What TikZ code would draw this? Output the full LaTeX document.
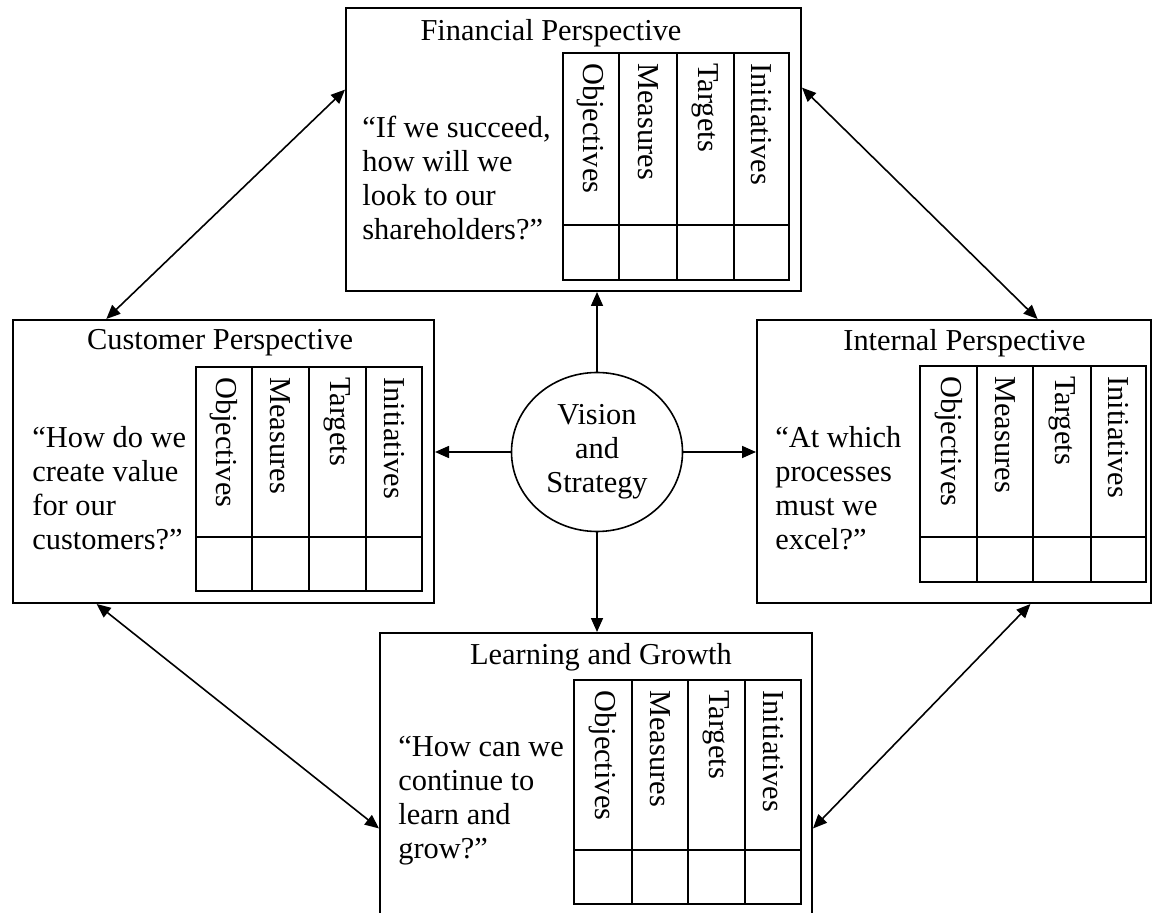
\documentclass[tikz,border=0pt]{standalone}
\usepackage{fontspec}
\setmainfont{Liberation Serif}
\usetikzlibrary{arrows.meta,shapes.geometric,calc}

\begin{document}
\begin{tikzpicture}[
			x=0.5pt, y=-0.5pt,
			every node/.style={font=\fontsize{15.2}{17}\selectfont, inner sep=0pt},
			panel/.style={rectangle, draw=black, line width=1pt},
			hub/.style={ellipse, draw=black, line width=0.8pt, minimum width=85.5pt, minimum height=79.5pt, align=center},
			question/.style={anchor=west, align=left},
			coltext/.style={rotate=-90, anchor=west},
			tablines/.style={line width=1.3pt},
			oneway/.style={-{Triangle[length=7pt,width=6pt]}, line width=0.8pt},
			twoway/.style={{Triangle[length=7pt,width=6pt]}-{Triangle[length=7pt,width=6pt]}, line width=0.8pt},
			]
			\clip (0,0) rectangle (1155,913);
			% the four perspectives and the hub
			\node[panel, minimum width=227.5pt, minimum height=141.5pt] at (573.5,149.5) (fin) {};
			\node[panel, minimum width=210.5pt, minimum height=141.5pt] at (223.5,461.5) (cus) {};
			\node[panel, minimum width=197pt, minimum height=141.5pt] at (954,461.5) (int) {};
			\node[panel, minimum width=216pt, minimum height=148.5pt] at (596,781.5) (lrn) {};
			\node[hub] at (597,452) (vis) {Vision\\and\\Strategy};
			% financial
			\node at (551,33) (fintitle) {Financial Perspective};
			\node[question] at (362,178) (finq) {``If we succeed,\\how will we\\look to our\\shareholders?''};
			\draw[tablines] (563,53) rectangle (789,280);
			\draw[tablines] (563,225) -- (789,225);
			\draw[tablines] (619,53) -- (619,280) (677,53) -- (677,280) (734,53) -- (734,280);
			\node[coltext] at (591,63) (finobj) {Objectives};
			\node[coltext] at (648,63) (finmea) {Measures};
			\node[coltext] at (705.5,63) (fintar) {Targets};
			\node[coltext] at (761.5,63) (finini) {Initiatives};
			% customer
			\node at (220,343) (custitle) {Customer Perspective};
			\node[question] at (32,488) (cusq) {``How do we\\create value\\for our\\customers?''};
			\draw[tablines] (196,367) rectangle (422,591);
			\draw[tablines] (196,537) -- (422,537);
			\draw[tablines] (252,367) -- (252,591) (309,367) -- (309,591) (366,367) -- (366,591);
			\node[coltext] at (224,377) (cusobj) {Objectives};
			\node[coltext] at (280.5,377) (cusmea) {Measures};
			\node[coltext] at (337.5,377) (custar) {Targets};
			\node[coltext] at (394,377) (cusini) {Initiatives};
			% internal
			\node at (964.5,343) (inttitle) {Internal Perspective};
			\node[question] at (775,488) (intq) {``At which\\processes\\must we\\excel?''};
			\draw[tablines] (920,366) rectangle (1146,582);
			\draw[tablines] (920,537) -- (1146,537);
			\draw[tablines] (977,366) -- (977,582) (1033,366) -- (1033,582) (1091,366) -- (1091,582);
			\node[coltext] at (948.5,376) (intobj) {Objectives};
			\node[coltext] at (1005,376) (intmea) {Measures};
			\node[coltext] at (1062,376) (inttar) {Targets};
			\node[coltext] at (1118.5,376) (intini) {Initiatives};
			% learning and growth
			\node at (601,657) (lrntitle) {Learning and Growth};
			\node[question] at (398,801) (lrnq) {``How can we\\continue to\\learn and\\grow?''};
			\draw[tablines] (574,680) rectangle (801,904);
			\draw[tablines] (574,850) -- (801,850);
			\draw[tablines] (632,680) -- (632,904) (688,680) -- (688,904) (745,680) -- (745,904);
			\node[coltext] at (603,690) (lrnobj) {Objectives};
			\node[coltext] at (660,690) (lrnmea) {Measures};
			\node[coltext] at (716.5,690) (lrntar) {Targets};
			\node[coltext] at (773,690) (lrnini) {Initiatives};
			% arrows
			\draw[oneway] (vis.north) -- (vis.north |- fin.south);
			\draw[oneway] (vis.south) -- (vis.south |- lrn.north);
			\draw[oneway] (vis.west) -- (vis.west -| cus.east);
			\draw[oneway] (vis.east) -- (vis.east -| int.west);
			\draw[twoway] ($(cus.north west)!0.223!(cus.north east)$) -- ($(fin.north west)!0.29!(fin.south west)$);
			\draw[twoway] ($(fin.north east)!0.283!(fin.south east)$) -- ($(int.north west)!0.711!(int.north east)$);
			\draw[twoway] ($(cus.south west)!0.2!(cus.south east)$) -- ($(lrn.north west)!0.657!(lrn.south west)$);
			\draw[twoway] ($(int.south west)!0.693!(int.south east)$) -- ($(lrn.north east)!0.657!(lrn.south east)$);
		\end{tikzpicture}
\end{document}
